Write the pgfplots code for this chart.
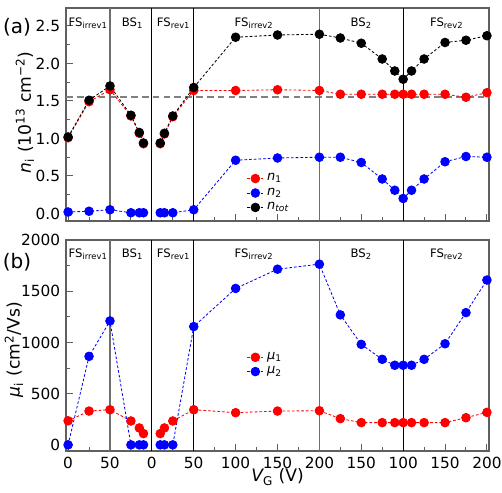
\documentclass[border=0pt]{standalone}
\usepackage{fontspec}
\setmainfont{DejaVu Sans}
\usepackage{pgfplots}
\usepackage{pgfplotstable}
\pgfplotsset{compat=1.18}
\definecolor{axgray}{RGB}{95,95,95}
\definecolor{vgray}{RGB}{110,110,110}

\pgfplotstableread{
u n1 n2 ntot
0 1.01 0.02 1.02
25 1.49 0.03 1.51
50 1.65 0.05 1.70
75 1.30 0.01 1.31
85 1.07 0.01 1.08
90 0.93 0.01 0.94
100 nan nan nan
110 0.93 0.01 0.94
115 1.06 0.01 1.07
125 1.29 0.01 1.30
150 1.64 0.05 1.68
200 1.64 0.71 2.35
250 1.65 0.74 2.38
300 1.64 0.75 2.39
325 1.59 0.75 2.34
350 1.59 0.68 2.27
375 1.59 0.46 2.06
390 1.59 0.31 1.90
400 1.59 0.20 1.79
410 1.59 0.31 1.90
425 1.59 0.46 2.06
450 1.59 0.69 2.28
475 1.55 0.76 2.31
500 1.61 0.75 2.37
}\tabA

\pgfplotstableread{
u mu1 mu2
0 235 0
25 330 864
50 343 1210
75 233 0
85 165 0
90 110 0
100 nan nan
110 110 0
115 165 0
125 233 0
150 343 1155
200 314 1527
250 330 1715
300 333 1764
325 256 1269
350 217 981
375 217 835
390 217 777
400 217 777
410 217 777
425 217 835
450 217 987
475 265 1291
500 317 1609
}\tabB

\pgfplotsset{
  common/.style={
    width=253.8pt, scale only axis,
    xmin=-2.5, xmax=502.5,
    xtick={0,50,100,150,200,250,300,350,400,450,500},
    minor x tick num=1, minor y tick num=1,
    tick align=inside, xtick pos=bottom, ytick pos=left,
    axis line style={draw=axgray, line width=0.8pt},
    tick style={axgray, line width=0.6pt},
    major tick length=4pt, minor tick length=2.5pt,
    unbounded coords=jump, clip=false,
    tick label style={font=\fontsize{9.2}{11}\selectfont},
    /pgf/number format/assume math mode=true,
    label style={font=\fontsize{10.3}{12}\selectfont},
    legend style={draw=none, fill=none, font=\fontsize{7.8}{9}\selectfont,
      row sep=-1.2pt},
    legend cell align=left,
    legend image code/.code={
      \draw[dash pattern=on 1.6pt off 1.2pt, line width=0.5pt] (0cm,0cm) -- (0.34cm,0cm);
      \draw[mark size=2.6pt] plot coordinates {(0.17cm,0cm)};
    },
  },
  ser/.style={#1, dash pattern=on 1.6pt off 1.2pt, line width=0.5pt,
    mark=*, mark size=2.6pt, mark options={solid, fill=#1, draw=#1}},
}

\newcommand{\seclab}{\fontsize{7}{8}\selectfont}

\begin{document}
\begin{tikzpicture}[x=1pt,y=1pt]
% ---------- panel (a)
\begin{axis}[common, at={(39.6pt,163.2pt)}, anchor=south west, height=127.8pt,
  ymin=-0.1, ymax=2.74, ytick={0,0.5,1,1.5,2,2.5},
  xticklabels={},
  yticklabel style={/pgf/number format/.cd, fixed, fixed zerofill, precision=1},
  ylabel={{\itshape n}\textsubscript{i} (10\textsuperscript{13} cm\textsuperscript{−2})},
  y label style={at={(axis description cs:-0.097,0.51)}, anchor=center},
  legend style={at={(rel axis cs:0.415,0.255)}, anchor=north west},
]
\draw[gray, dash pattern=on 4pt off 2.5pt, line width=0.9pt] (axis cs:-2.5,1.55) -- (axis cs:502.5,1.55);
\draw[vgray, line width=1pt] (axis cs:50,-0.1) -- (axis cs:50,2.74);
\draw[vgray, line width=1pt] (axis cs:300,-0.1) -- (axis cs:300,2.74);
\draw[black, line width=0.6pt] (axis cs:100,-0.1) -- (axis cs:100,2.74);
\draw[black, line width=0.6pt] (axis cs:150,-0.1) -- (axis cs:150,2.74);
\draw[black, line width=0.6pt] (axis cs:400,-0.1) -- (axis cs:400,2.74);
\addplot[ser=red] table[x=u, y=n1] {\tabA};
\addplot[ser=blue] table[x=u, y=n2] {\tabA};
\addplot[ser=black] table[x=u, y=ntot] {\tabA};
\legend{{\itshape n}\textsubscript{1}, {\itshape n}\textsubscript{2}, {\itshape n}\textsubscript{\itshape tot}}
\node[font=\seclab] at (axis cs:24,2.54) {FS\textsubscript{irrev1}};
\node[font=\seclab] at (axis cs:77,2.54) {BS\textsubscript{1}};
\node[font=\seclab] at (axis cs:126,2.54) {FS\textsubscript{rev1}};
\node[font=\seclab] at (axis cs:222,2.54) {FS\textsubscript{irrev2}};
\node[font=\seclab] at (axis cs:350,2.54) {BS\textsubscript{2}};
\node[font=\seclab] at (axis cs:452,2.54) {FS\textsubscript{rev2}};
\end{axis}
% ---------- panel (b)
\begin{axis}[common, at={(39.6pt,25.2pt)}, anchor=south west, height=126.6pt,
  ymin=-60, ymax=2000, ytick={0,500,1000,1500,2000},
  xticklabels={0,50,0,50,100,150,200,150,100,150,200},
  yticklabel style={/pgf/number format/.cd, 1000 sep={}},
  ylabel={{\itshape μ}\textsubscript{i} (cm\textsuperscript{2}/Vs)},
  y label style={at={(axis description cs:-0.123,0.48)}, anchor=center},
  xlabel={{\itshape V}\textsubscript{G} (V)},
  x label style={at={(axis description cs:0.5,0)}, anchor=center, yshift=-15.6pt},
  legend style={at={(rel axis cs:0.415,0.5)}, anchor=north west},
]
\draw[vgray, line width=1pt] (axis cs:50,-60) -- (axis cs:50,2000);
\draw[vgray, line width=1pt] (axis cs:300,-60) -- (axis cs:300,2000);
\draw[black, line width=0.6pt] (axis cs:100,-60) -- (axis cs:100,2000);
\draw[black, line width=0.6pt] (axis cs:150,-60) -- (axis cs:150,2000);
\draw[black, line width=0.6pt] (axis cs:400,-60) -- (axis cs:400,2000);
\addplot[ser=red] table[x=u, y=mu1] {\tabB};
\addplot[ser=blue] table[x=u, y=mu2] {\tabB};
\legend{{\itshape μ}\textsubscript{1}, {\itshape μ}\textsubscript{2}}
\node[font=\seclab] at (axis cs:24,1860) {FS\textsubscript{irrev1}};
\node[font=\seclab] at (axis cs:77,1860) {BS\textsubscript{1}};
\node[font=\seclab] at (axis cs:126,1860) {FS\textsubscript{rev1}};
\node[font=\seclab] at (axis cs:222,1860) {FS\textsubscript{irrev2}};
\node[font=\seclab] at (axis cs:350,1860) {BS\textsubscript{2}};
\node[font=\seclab] at (axis cs:452,1860) {FS\textsubscript{rev2}};
\end{axis}
\node[font=\fontsize{12}{14}\selectfont] at (10.2pt,279.6pt) {(a)};
\node[font=\fontsize{12}{14}\selectfont] at (10.2pt,138.6pt) {(b)};
\pgfresetboundingbox
\path[use as bounding box] (0pt,0pt) rectangle (301.2pt,295.8pt);
\end{tikzpicture}
\end{document}
